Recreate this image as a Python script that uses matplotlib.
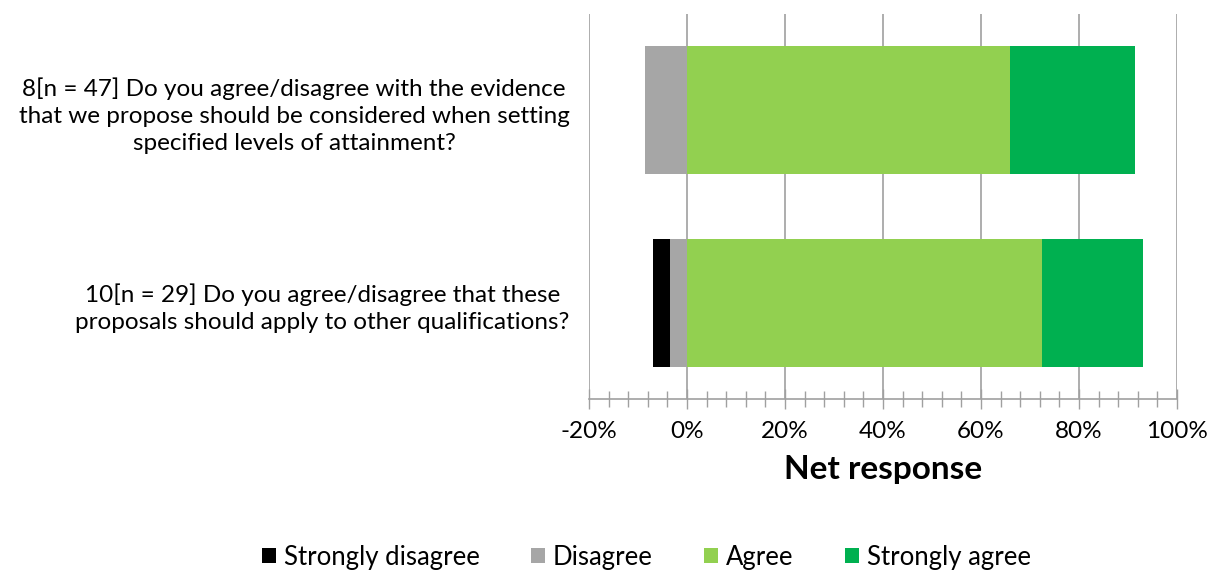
import matplotlib.pyplot as plt
from matplotlib.ticker import MultipleLocator, FuncFormatter

plt.rcParams['font.family'] = ['Lato', 'DejaVu Sans']

# Questions (bottom to top) and response counts
questions = [
    "10[n = 29] Do you agree/disagree that these\nproposals should apply to other qualifications?",
    "8[n = 47] Do you agree/disagree with the evidence\nthat we propose should be considered when setting\nspecified levels of attainment?",
]
n_resp = [29, 47]
strongly_disagree = [1, 0]
disagree = [1, 4]
agree = [21, 31]
strongly_agree = [6, 12]

categories = ["Strongly disagree", "Disagree", "Agree", "Strongly agree"]
colors = ["#000000", "#A6A6A6", "#92D050", "#00B050"]

sd = [100 * a / n for a, n in zip(strongly_disagree, n_resp)]
d = [100 * a / n for a, n in zip(disagree, n_resp)]
ag = [100 * a / n for a, n in zip(agree, n_resp)]
sa = [100 * a / n for a, n in zip(strongly_agree, n_resp)]

fig = plt.figure(figsize=(12.1, 5.72), dpi=100)
ax = fig.add_axes([0.4868, 0.3024, 0.4859, 0.6731])

y = range(len(questions))
h = 0.667
ax.barh(y, [-v for v in d], height=h, color=colors[1], label=categories[1], zorder=3)
ax.barh(y, [-v for v in sd], left=[-v for v in d], height=h, color=colors[0],
        label=categories[0], zorder=3)
ax.barh(y, ag, height=h, color=colors[2], label=categories[2], zorder=3)
ax.barh(y, sa, left=ag, height=h, color=colors[3], label=categories[3], zorder=3)

ax.set_xlim(-20, 100)
ax.set_ylim(-0.5, 1.5)
ax.xaxis.set_major_locator(MultipleLocator(20))
ax.xaxis.set_minor_locator(MultipleLocator(4))
ax.xaxis.set_major_formatter(FuncFormatter(lambda v, p: f"{v:.0f}%"))
ax.grid(axis='x', which='major', color='#A0A0A0', linewidth=1.2, zorder=0)
ax.tick_params(axis='x', which='both', direction='inout', color='#A0A0A0',
               width=1.0, labelsize=17.5, pad=9)
ax.tick_params(axis='x', which='major', length=14)
ax.tick_params(axis='x', which='minor', length=11)
ax.set_yticks(list(y))
ax.set_yticklabels(questions, fontsize=17.5, multialignment='center', linespacing=1.35)
ax.tick_params(axis='y', length=0, pad=14)
for s in ['top', 'right', 'left']:
    ax.spines[s].set_visible(False)
ax.spines['bottom'].set_color('#A0A0A0')
ax.spines['bottom'].set_linewidth(1.2)
ax.set_xlabel("Net response", fontsize=24, fontweight='bold', labelpad=9)

handles, labels = ax.get_legend_handles_labels()
order = [labels.index(c) for c in categories]
fig.legend([handles[i] for i in order], categories, loc='center', ncol=4,
           bbox_to_anchor=(0.534, 0.026), frameon=False, fontsize=18.5,
           handlelength=0.55, handleheight=0.55, handletextpad=0.3, columnspacing=2.0)

fig.savefig("out.png", dpi=100)
